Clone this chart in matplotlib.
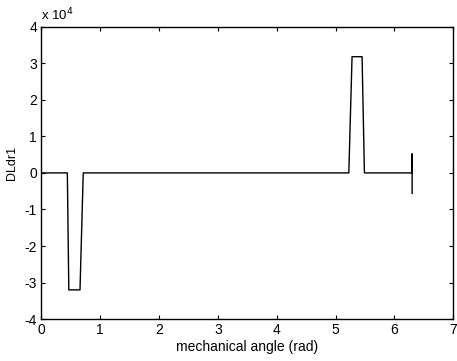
import numpy as np
import matplotlib.pyplot as plt

plt.rcParams['font.family'] = ['Liberation Sans', 'DejaVu Sans']

# DLdr1 vs mechanical angle (breakpoints of the piecewise curve)
angle = [0.0, 0.445, 0.47, 0.66, 0.715, 5.225, 5.28, 5.45, 5.49, 6.28, 6.30, 6.30, 6.30]
dldr1 = [0.0, 0.0, -3.2e4, -3.2e4, 0.0, 0.0, 3.18e4, 3.18e4, 0.0, 0.0, 0.0, 0.52e4, -0.56e4]

yticks = [-4, -3, -2, -1, 0, 1, 2, 3, 4]
xticks = [0, 1, 2, 3, 4, 5, 6, 7]

fig = plt.figure(figsize=(4.57, 3.61), dpi=100)
ax = fig.add_axes([0.09, 0.116, 0.902, 0.81])
ax.plot(angle, dldr1, color='black', lw=1.0)

ax.set_xlim(0, 7)
ax.set_ylim(-4e4, 4e4)
ax.set_xticks(xticks)
ax.set_yticks([v * 1e4 for v in yticks])
ax.set_yticklabels([str(v) for v in yticks])
ax.tick_params(direction='in', length=3, width=0.8, labelsize=10,
               top=True, right=True, pad=3)
for s in ax.spines.values():
    s.set_linewidth(1.0)

ax.text(0.0, 1.012, r'x 10$^4$', transform=ax.transAxes, fontsize=9.5,
        ha='left', va='bottom')
ax.set_xlabel('mechanical angle (rad)', fontsize=10, labelpad=2)
ax.set_ylabel('DLdr1', fontsize=9)
ax.yaxis.set_label_coords(-0.055, 0.535)

fig.savefig('out.png', dpi=100)
